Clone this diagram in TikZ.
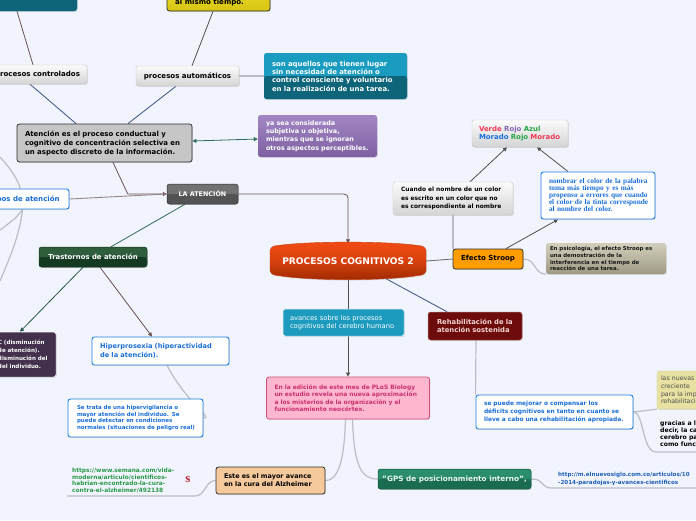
\documentclass[tikz,border=0pt]{standalone}
\usepackage{fontspec}
\setsansfont{DejaVu Sans}
\newfontfamily\tmsf{Liberation Serif}
\usetikzlibrary{arrows.meta,shadows,calc}
\pgfdeclarelayer{back}
\pgfdeclarelayer{links}
\pgfsetlayers{back,links,main}
\definecolor{bgc}{HTML}{F1F4FC}
\definecolor{tealA}{HTML}{1A9CC0}
\definecolor{tealB}{HTML}{0E6479}
\definecolor{purA}{HTML}{A286C4}
\definecolor{purB}{HTML}{7C60A0}
\definecolor{grayat}{HTML}{C6C6C6}
\definecolor{darkb}{HTML}{2E2E2E}
\definecolor{lgA}{HTML}{FBFBFB}
\definecolor{lgB}{HTML}{D4D4D4}
\definecolor{lgE}{HTML}{C8C8C8}
\definecolor{blueb}{HTML}{1E7FE0}
\definecolor{bluet}{HTML}{1A6FD8}
\definecolor{laA}{HTML}{727272}
\definecolor{laB}{HTML}{535353}
\definecolor{trA}{HTML}{2E5E3C}
\definecolor{trB}{HTML}{153A22}
\definecolor{dpc}{HTML}{42304C}
\definecolor{azc}{HTML}{F5C99B}
\definecolor{pkc}{HTML}{FFB7CF}
\definecolor{pkb}{HTML}{D24C7C}
\definecolor{pkt}{HTML}{C8306E}
\definecolor{gpA}{HTML}{2A8E6C}
\definecolor{gpB}{HTML}{1A6C51}
\definecolor{gpt}{HTML}{EAF5EF}
\definecolor{avc}{HTML}{1C9BBE}
\definecolor{rhc}{HTML}{6E0B0B}
\definecolor{rht}{HTML}{F2D4D4}
\definecolor{lnc}{HTML}{E8E2A2}
\definecolor{esc}{HTML}{FF9C00}
\definecolor{psA}{HTML}{D2CFBC}
\definecolor{psB}{HTML}{9E9A84}
\definecolor{ylA}{HTML}{F2E334}
\definecolor{ylB}{HTML}{D8C512}
\definecolor{urlg}{HTML}{2A9A4A}
\definecolor{urlb}{HTML}{2060B8}
\definecolor{redS}{HTML}{C0283C}
\definecolor{vR}{HTML}{F03A56}
\definecolor{vP}{HTML}{8466B4}
\definecolor{vG}{HTML}{22A446}
\definecolor{vB}{HTML}{1A70E0}
\definecolor{cBrown}{HTML}{6A5252}
\definecolor{cBlue}{HTML}{4A5F8A}
\definecolor{cTeal}{HTML}{2F6B5F}
\definecolor{cLight}{HTML}{BABDC6}
\definecolor{cDark}{HTML}{505050}
\definecolor{pcA}{HTML}{F24C14}
\definecolor{pcB}{HTML}{9C2800}
\newcommand{\fsz}[2]{\fontsize{#1pt}{#2pt}\selectfont}
\newcommand{\ml}[1]{\mbox{#1}}
\tikzset{
  box/.style={rounded corners=2.5pt, inner sep=0pt, align=left,
    drop shadow={opacity=0.22,shadow xshift=0.8pt,shadow yshift=-0.9pt}},
  gloss/.style 2 args={fill=#1, path picture={\fill[#2]
    (path picture bounding box.west) rectangle (path picture bounding box.south east);}},
  lgbox/.style={box, top color=lgA, bottom color=lgB, draw=lgE, line width=0.4pt},
  wbox/.style={box, fill=white, draw=blueb, line width=0.9pt},
  cb/.style={draw=cBrown, line width=0.8pt},
  cbl/.style={draw=cBlue, line width=0.9pt},
  ct/.style={draw=cTeal, line width=0.8pt},
  cg/.style={draw=cLight, line width=1.2pt},
  cd/.style={draw=cDark, line width=0.8pt},
  tip/.style={-{Triangle[length=4pt,width=4pt]}},
  tip2/.style={{Triangle[length=4pt,width=4pt]}-{Triangle[length=4pt,width=4pt]}},
}
\begin{document}
\begin{tikzpicture}[x=1pt,y=-1pt]
\begin{pgfonlayer}{back}
\fill[bgc] (0,0) rectangle (696,520);
\end{pgfonlayer}
\useasboundingbox (0,0) rectangle (696,520);
\clip (0,0) rectangle (696,520);

% ---- top ----
\node[box, gloss={tealA}{tealB}, minimum width=94pt, minimum height=32pt] (tt) at (30,-5) {};
\node[box, top color=ylA, bottom color=ylB, draw=darkb, line width=0.8pt, minimum width=103pt, minimum height=36pt] (yl) at (218.5,-7) {};
\node[anchor=west, inner sep=0pt, font={\sffamily\bfseries\fsz{7.05}{8}}] (ylt) at (175,2.5) {al mismo tiempo.};
\node[lgbox, minimum width=99pt, minimum height=19pt, font={\sffamily\bfseries\fsz{7.05}{8}}] (pc) at (37.5,74.5) {procesos controlados};
\node[lgbox, minimum width=103pt, minimum height=20pt, font={\sffamily\bfseries\fsz{7.05}{8}}] (pa) at (187.5,76) {procesos automáticos};
\node[box, gloss={tealA}{tealB}, minimum width=143pt, minimum height=46pt, text width=127pt, text=white, font={\sffamily\bfseries\fsz{6.9}{8.3}}] (sa) at (335.5,76) {\ml{son aquellos que tienen lugar}\\ \ml{sin necesidad de atención o}\\ \ml{control consciente y voluntario}\\ \ml{en la realización de una tarea.}};
\node[box, top color=purA, bottom color=purB, minimum width=119pt, minimum height=42pt, text width=103pt, text=white, font={\sffamily\bfseries\fsz{6.4}{8.3}}] (ys) at (317.5,136) {\ml{ya sea considerada}\\ \ml{subjetiva u objetiva,}\\ \ml{mientras que se ignoran}\\ \ml{otros aspectos perceptibles.}};
\node[box, fill=grayat, draw=darkb, line width=0.8pt, minimum width=175pt, minimum height=38pt, text width=159pt, font={\sffamily\bfseries\fsz{6.95}{9}}] (at) at (104.5,143) {\ml{Atención es el proceso conductual y}\\ \ml{cognitivo de concentración selectiva en}\\ \ml{un aspecto discreto de la información.}};

% ---- left ----
\node[wbox, minimum width=89pt, minimum height=20pt, text=bluet, font={\sffamily\bfseries\fsz{7.05}{8}}] (tp) at (24.5,199) {Tipos de atención};
\node[box, gloss={laA}{laB}, draw=darkb, line width=0.5pt, minimum width=71pt, minimum height=20pt, text=white, font={\sffamily\bfseries\fsz{6.4}{8}}] (la) at (202.5,194) {LA ATENCIÓN};
\node[box, gloss={trA}{trB}, draw=trB, line width=0.5pt, minimum width=108pt, minimum height=20pt, text=white, font={\sffamily\bfseries\fsz{6.9}{8}}] (tr) at (93,257) {Trastornos de atención};
\node[box, fill=dpc, draw=white, line width=0.5pt, minimum width=60pt, minimum height=45pt, text width=56pt, text=white, font={\sffamily\bfseries\fsz{5.6}{8}}] (dp) at (26,354.5) {\ml{C (disminución}\\ \ml{de atención).}\\ \ml{disminución del}\\ \ml{del individuo.}};
\node[wbox, minimum width=137pt, minimum height=28pt, text width=121pt, text=bluet, font={\sffamily\bfseries\fsz{6.65}{9}}] (hp) at (160.5,351) {\ml{Hiperprosexia (hiperactividad}\\ \ml{de la atención).}};
\node[wbox, minimum width=135pt, minimum height=38pt, text width=117pt, text=bluet, font={\sffamily\bfseries\fsz{5.5}{6.8}}] (st) at (135.5,418) {\ml{Se trata de una hipervigilancia o}\\ \ml{mayor atención del individuo. Se}\\ \ml{puede detectar en condiciones}\\ \ml{normales (situaciones de peligro real)}};
\node[anchor=west, inner sep=0pt, align=left, text=urlg, font={\sffamily\bfseries\fsz{5.85}{6.8}}] (u1) at (72,480.5) {https://www.semana.com/vida-\\ moderna/articulo/cientificos-\\ habrian-encontrado-la-cura-\\ contra-el-alzheimer/492138};
\node[inner sep=0pt, text=redS, font={\tmsf\bfseries\fontsize{13pt}{13pt}\selectfont}] (rs) at (188,479) {s};
\node[box, fill=azc, draw=darkb, line width=0.8pt, minimum width=109pt, minimum height=27pt, text width=93pt, font={\sffamily\bfseries\fsz{6.45}{8.1}}] (az) at (270.5,480.5) {\ml{Este es el mayor avance}\\ \ml{en la cura del Alzheimer}};

% ---- centre ----
\shade[top color=pcA, bottom color=pcB, middle color=pcA!70!pcB, draw=pcA!80!black, line width=0.4pt,
  drop shadow={opacity=0.22,shadow xshift=0.8pt,shadow yshift=-0.9pt}]
  (270,250) .. controls (272,246) and (274,246) .. (278,245.5)
  .. controls (310,241) and (386,241) .. (418,245.5)
  .. controls (422,246) and (424,246) .. (426,250) -- (426,271)
  .. controls (424,275) and (422,275) .. (418,275.5)
  .. controls (386,281) and (310,281) .. (278,275.5)
  .. controls (274,275) and (272,275) .. (270,271) -- cycle;
\node[inner sep=0pt, minimum width=156pt, minimum height=35pt, text=white, font={\sffamily\bfseries\fsz{9.1}{10}}] (pcg) at (348,261) {PROCESOS COGNITIVOS 2};
\node[box, fill=avc, draw=white!85!avc, line width=0.5pt, minimum width=121pt, minimum height=27pt, text width=107pt, text=white, font={\sffamily\fsz{6.7}{8}}] (av) at (343.5,322.5) {\ml{avances sobre los procesos}\\ \ml{cognitivos del cerebro humano}};
\node[box, fill=pkc, draw=pkb, line width=0.8pt, minimum width=163pt, minimum height=42pt, text width=147pt, text=pkt, font={\sffamily\bfseries\fsz{5.95}{7.4}}] (pk) at (348,398) {\ml{En la edición de este mes de PLoS Biology}\\ \ml{un estudio revela una nueva aproximación}\\ \ml{a los misterios de la organización y el}\\ \ml{funcionamiento neocórtex.}};
\node[box, gloss={gpA}{gpB}, draw=gpB!80!black, line width=0.5pt, minimum width=153pt, minimum height=20pt, text=gpt, font={\sffamily\bfseries\fsz{7.3}{8}}] (gp) at (454.5,479) {"GPS de posicionamiento interno",};
\node[anchor=west, inner sep=0pt, align=left, text=urlb, font={\sffamily\bfseries\fsz{5.6}{8}}] (u2) at (558,479) {http://m.elnuevosiglo.com.co/articulos/10\\ -2014-paradojas-y-avances-cientificos};

% ---- right ----
\node[box, fill=rhc, draw=rhc!60!white, line width=0.5pt, minimum width=94pt, minimum height=28pt, text width=76pt, text=rht, font={\sffamily\bfseries\fsz{6.8}{7.7}}] (rh) at (475,326) {\ml{Rehabilitación de la}\\ \ml{atención sostenida}};
\node[wbox, minimum width=157pt, minimum height=34pt, text width=141pt, text=bluet, font={\sffamily\bfseries\fsz{5.9}{7.7}}] (sp) at (554.5,412) {\ml{se puede mejorar o compensar los}\\ \ml{déficits cognitivos en tanto en cuanto se}\\ \ml{lleve a cabo una rehabilitación apropiada.}};
\node[box, fill=lnc, draw=lnc!90!black, line width=0.4pt, minimum width=83pt, minimum height=38pt, text width=75pt, text=black!70, font={\sffamily\fsz{6.25}{7.7}}] (ln) at (698.5,390) {\ml{las nuevas}\\ \ml{creciente}\\ \ml{para la implementación}\\ \ml{rehabilitación}};
\node[anchor=west, inner sep=0pt, align=left, font={\sffamily\bfseries\fsz{6.15}{7}}] (gr) at (660,433.5) {gracias a la\\ decir, la capacidad\\ cerebro para\\ como funcional};
\node[box, fill=esc, draw=darkb, line width=0.8pt, minimum width=70pt, minimum height=20pt, font={\sffamily\bfseries\fsz{7.0}{8}}] (es) at (488,259) {Efecto Stroop};
\node[lgbox, minimum width=120pt, minimum height=33pt, text width=104pt, font={\sffamily\bfseries\fsz{5.95}{8.3}}] (cu) at (453,198.5) {\ml{Cuando el nombre de un color}\\ \ml{es escrito en un color que no}\\ \ml{es correspondiente al nombre}};
\node[lgbox, minimum width=96pt, minimum height=27pt, text width=82pt, font={\sffamily\bfseries\fsz{6.95}{8}}] (vr) at (520,133.5) {\ml{{\color{vR}Verde} {\color{vP}Rojo} {\color{vG}Azul}}\\ \ml{{\color{vB}Morado} {\color{vG}Rojo} {\color{vR}Morado}}};
\node[wbox, minimum width=114pt, minimum height=47pt, text width=98pt, text=bluet, font={\tmsf\bfseries\fsz{7.3}{7}}] (nb) at (598,195.5) {\ml{nombrar el color de la palabra}\\ \ml{toma más tiempo y es más}\\ \ml{propenso a errores que cuando}\\ \ml{el color de la tinta corresponde}\\ \ml{al nombre del color.}};
\node[box, top color=psA, bottom color=psB, minimum width=120pt, minimum height=31pt, text width=112pt, text=black!90, font={\sffamily\bfseries\fsz{5.45}{6.9}}] (ps) at (606,258.5) {\ml{En psicología, el efecto Stroop es}\\ \ml{una demostración de la}\\ \ml{interferencia en el tiempo de}\\ \ml{reacción de una tarea.}};

% free ends
\coordinate (u1s) at (195,496);
\coordinate (u1e) at (67,496);
\coordinate (u2s) at (552,488);
\coordinate (u2e) at (700,488);
\coordinate (grs) at (656,452);
\coordinate (gre) at (700,452);
\coordinate (tl1) at (0,157);
\coordinate (tl2) at (0,230);
\coordinate (tl4) at (0,281);

% ---- connectors ----
\begin{pgfonlayer}{links}
\draw[cb] ([xshift=-13pt]tt.south) -- ([xshift=-4.5pt]pc.north);
\draw[cd] ([xshift=-5.5pt]yl.south) -- ([xshift=4.5pt]pa.north);
\draw[cbl] ([xshift=-7.5pt]pc.south) -- ([xshift=-28.5pt]at.north);
\draw[cbl] ([xshift=-11.5pt]pa.south) -- ([xshift=23.5pt]at.north);
\draw[cg] (pa.east) -- (sa.west);
\draw[ct, tip2] ([yshift=2pt]at.east) -- ([yshift=-3pt]ys.west);
\draw[cb, tip] ([xshift=8.5pt]at.south) -- ([xshift=-39pt]la.west) -- (la.west);
\draw[draw=cBrown!70!white, line width=0.9pt] (tp.east) -- (la.west);
\draw[cb, tip, rounded corners=4pt] (la.east) -| (pcg.north);
\draw[ct] ([xshift=-17.5pt]la.south) -- ([xshift=18pt]tr.north);
\draw[draw=cTeal!80!black, line width=0.8pt, tip] ([xshift=-10pt]tr.south) -- ([xshift=-6pt]dp.north);
\draw[cb, tip] ([xshift=7pt]tr.south) -- ([xshift=-8.5pt]hp.north);
\draw[cg] ([xshift=6.5pt]hp.south) .. controls (188,405) and (214,418) .. (st.east);
\draw[cg] (tl1) .. controls (10,168) and (17,178) .. ([xshift=-4pt]tp.north);
\draw[cg] ([xshift=-2pt]tp.south) .. controls (16,218) .. (tl2);
\draw[cg] ([xshift=-2pt]tp.south) .. controls (20,235) and (8,262) .. (tl4);
\draw[cd, tip] (pcg.south) -- (pk.north);
\draw[cbl] ([xshift=38pt]pcg.south) -- ([xshift=-28pt]rh.north);
\draw[draw=cDark!80!white, line width=0.9pt] (pcg.east) -- (es.west);
\draw[cg] ([xshift=-35pt]es.north) -- ([xshift=0pt]cu.south);
\draw[cd, tip] ([xshift=17pt]cu.north) -- ([xshift=-13pt]vr.south);
\draw[cd, tip] ([xshift=-30pt]nb.north) -- ([xshift=17pt]vr.south);
\draw[cd, tip] ([xshift=18pt]es.north) -- ([xshift=-40pt]nb.south);
\draw[cg] (es.east) .. controls (536,259) and (534,274) .. (ps.south west);
\draw[cg] ([xshift=1pt]rh.south) -- (sp.north west);
\draw[cg] (sp.east) .. controls (645,410) .. (ln.south west);
\draw[cg] (sp.east) .. controls (644,412) and (642,452) .. (grs) -- (gre);
\draw[cg] ([xshift=-2.5pt]pk.south) .. controls (344,468) and (336,480.5) .. (az.east);
\draw[cg] ([xshift=4.5pt]pk.south) .. controls (354,468) and (362,479) .. (gp.west);
\draw[cg] (gp.east) .. controls (545,479) and (540,488) .. (u2s) -- (u2e);
\draw[cg] (az.west) .. controls (205,480.5) and (206,496) .. (u1s) -- (u1e);
\end{pgfonlayer}
\end{tikzpicture}
\end{document}
